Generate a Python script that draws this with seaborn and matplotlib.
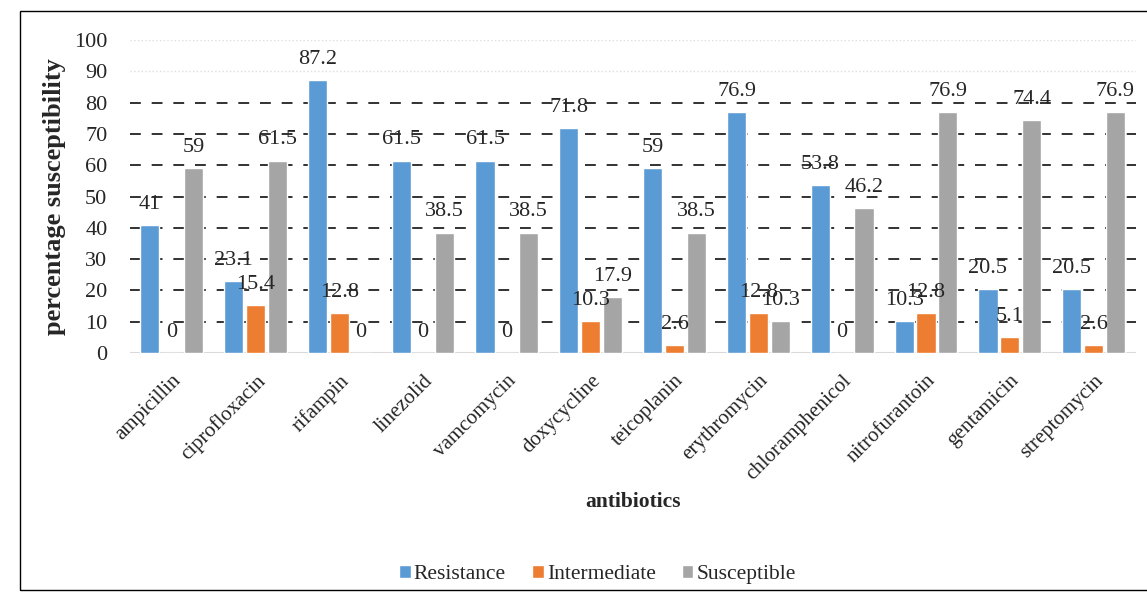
import pandas as pd
import matplotlib.pyplot as plt
import matplotlib.patches as mpatches
import seaborn as sns

# data
antibiotics = ['ampicillin', 'ciprofloxacin', 'rifampin', 'linezolid', 'vamcomycin',
               'doxycycline', 'teicoplanin', 'erythromycin', 'chloramphenicol',
               'nitrofurantoin', 'gentamicin', 'streptomycin']
resistance = [41, 23.1, 87.2, 61.5, 61.5, 71.8, 59, 76.9, 53.8, 10.3, 20.5, 20.5]
intermediate = [0, 15.4, 12.8, 0, 0, 10.3, 2.6, 12.8, 0, 12.8, 5.1, 2.6]
susceptible = [59, 61.5, 0, 38.5, 38.5, 17.9, 38.5, 10.3, 46.2, 76.9, 74.4, 76.9]

series = ['Resistance', 'Intermediate', 'Susceptible']
colors = ['#5B9BD5', '#ED7D31', '#A5A5A5']

df = pd.DataFrame({
    'antibiotic': antibiotics * 3,
    'status': [s for s in series for _ in antibiotics],
    'value': resistance + intermediate + susceptible,
})

sns.set_style('white')
plt.rcParams['font.family'] = ['Liberation Serif', 'DejaVu Serif']

fig = plt.figure(figsize=(11.47, 6.01), dpi=100)
ax = fig.add_axes([0.113, 0.4126, 0.877, 0.5208])

sns.barplot(data=df, x='antibiotic', y='value', hue='status', palette=colors,
            saturation=1, width=0.78, gap=0.12, ax=ax, zorder=3, legend=True)

# value labels
for cont in ax.containers:
    ax.bar_label(cont, labels=[f'{v.get_height():g}' for v in cont],
                 padding=8, fontsize=16, zorder=5)

ax.set_ylim(0, 100)
ax.set_yticks(range(0, 101, 10))
for y in range(10, 81, 10):
    ax.axhline(y, color='#222222', lw=1.3, ls=(0, (6, 6)), zorder=1)
for y in (90, 100):
    ax.axhline(y, color='#dddddd', lw=1, ls=':', zorder=1)
ax.axhline(0, color='#d9d9d9', lw=1.5, zorder=2)

sns.despine(ax=ax, left=True, bottom=True)
ax.tick_params(axis='y', labelsize=16, length=0, pad=16)
ax.tick_params(axis='x', labelsize=15, length=0, pad=13)
plt.setp(ax.get_xticklabels(), rotation=45, ha='right', rotation_mode='anchor')

ax.set_ylabel('percentage susceptibility', fontsize=19, fontweight='bold', labelpad=6)
ax.set_xlabel('antibiotics', fontsize=15.5, fontweight='bold', labelpad=6)

ax.legend(loc='upper center', bbox_to_anchor=(0.465, -0.615), ncol=3, frameon=False,
          fontsize=15.5, handlelength=0.55, handleheight=0.55, handletextpad=0.15,
          columnspacing=1.2)

# outer frame
fig.patches.append(mpatches.Rectangle((20 / 1147, 11 / 601), 1.0, 579 / 601,
                                      transform=fig.transFigure, fill=False,
                                      edgecolor='black', lw=1))

plt.savefig('out.png', dpi=100)
plt.close()
